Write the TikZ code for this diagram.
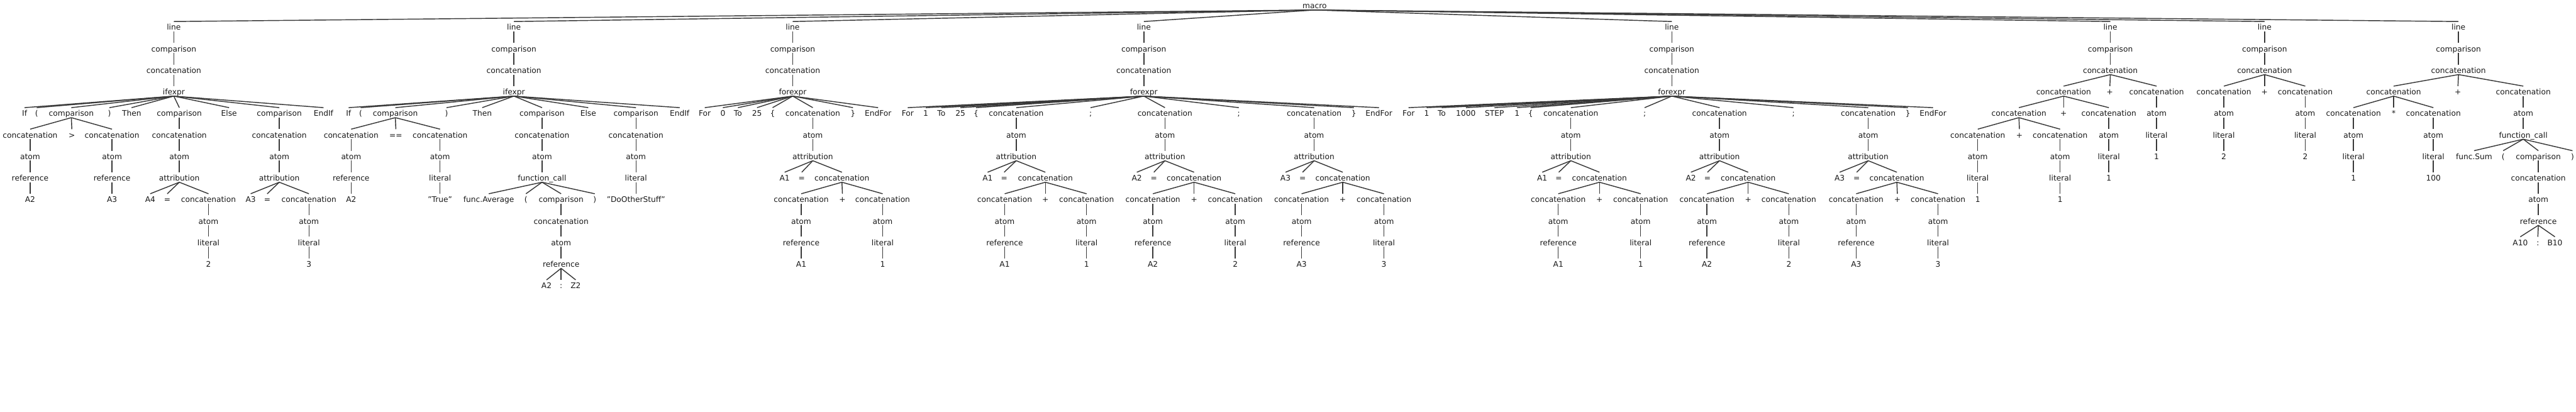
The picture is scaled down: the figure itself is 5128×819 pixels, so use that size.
\documentclass[tikz,border=0pt]{standalone}
\usepackage{fontspec}
\setmainfont{DejaVu Sans}
\begin{document}
\begin{tikzpicture}[x=1pt,y=-1pt,
  tn/.style={font=\fontsize{15.3}{18}\selectfont, text=black!90, inner sep=0pt, text height=17pt, text depth=2.5pt, anchor=base},
  ed/.style={draw=black!78, line width=1.8pt}]
\fill[white] (0,0) rectangle (5128,819);
\useasboundingbox (0,0) rectangle (5128,819);
\newcommand\TN[5]{\node[tn] (#1) at (#3,{17.2+42.85*#4}) {#5}; \draw[ed] (#2.south) -- (#1.north);}
\newcommand\CH[5]{%
  \xdef\chprev{#2}%
  \foreach \lab [count=\k from #4] in {#5}{%
    \TN{#1\k}{\chprev}{#3}{\k}{\lab}%
    \xdef\chprev{#1\k}%
  }%
}
\newcommand\ATT[9]{%
  \TN{#1A}{#2}{#3}{8}{A#4}%
  \TN{#1E}{#2}{#5}{8}{=}%
  \TN{#1C}{#2}{#6}{8}{concatenation}%
  \CH{#1l}{#1C}{#7}{9}{concatenation,atom,reference,A#4}%
  \TN{#1P}{#1C}{#8}{9}{+}%
  \CH{#1r}{#1C}{#9}{9}{concatenation,atom,literal,#4}%
}
% root
\node[tn] (m) at (2617,17.2) {macro};
% ---------- line 1
\CH{a}{m}{346}{1}{line,comparison,concatenation,ifexpr}
\TN{aIf}{a4}{49}{5}{If}
\TN{aLp}{a4}{73}{5}{(}
\CH{ac}{a4}{142}{5}{comparison}
\TN{aRp}{a4}{218}{5}{)}
\TN{aThen}{a4}{262}{5}{Then}
\CH{at}{a4}{357}{5}{comparison,concatenation,atom,attribution}
\TN{aElse}{a4}{456}{5}{Else}
\CH{ae}{a4}{556}{5}{comparison,concatenation,atom,attribution}
\TN{aEnd}{a4}{644}{5}{EndIf}
\CH{acl}{ac5}{60}{6}{concatenation,atom,reference,A2}
\TN{agt}{ac5}{143}{6}{>}
\CH{acr}{ac5}{223}{6}{concatenation,atom,reference,A3}
\TN{atA}{at8}{299}{9}{A4}
\TN{atEq}{at8}{333}{9}{=}
\CH{atc}{at8}{415}{9}{concatenation,atom,literal,2}
\TN{aeA}{ae8}{499}{9}{A3}
\TN{aeEq}{ae8}{532}{9}{=}
\CH{aec}{ae8}{615}{9}{concatenation,atom,literal,3}
% ---------- line 2
\CH{b}{m}{1023}{1}{line,comparison,concatenation,ifexpr}
\TN{bIf}{b4}{694}{5}{If}
\TN{bLp}{b4}{718}{5}{(}
\CH{bc}{b4}{787}{5}{comparison}
\TN{bRp}{b4}{889}{5}{)}
\TN{bThen}{b4}{960}{5}{Then}
\CH{bt}{b4}{1079}{5}{comparison,concatenation,atom,function\_call}
\TN{bElse}{b4}{1171}{5}{Else}
\CH{be}{b4}{1266}{5}{comparison,concatenation,atom,literal,"DoOtherStuff"}
\TN{bEnd}{b4}{1353}{5}{EndIf}
\CH{bcl}{bc5}{699}{6}{concatenation,atom,reference,A2}
\TN{beq}{bc5}{788}{6}{==}
\CH{bcr}{bc5}{876}{6}{concatenation,atom,literal,"True"}
\TN{bfn}{bt8}{973}{9}{func.Average}
\TN{bfL}{bt8}{1047}{9}{(}
\CH{bfc}{bt8}{1117}{9}{comparison,concatenation,atom,reference}
\TN{bfR}{bt8}{1184}{9}{)}
\TN{bA}{bfc12}{1088}{13}{A2}
\TN{bCo}{bfc12}{1117}{13}{:}
\TN{bZ}{bfc12}{1146}{13}{Z2}
% ---------- line 3
\CH{c}{m}{1578}{1}{line,comparison,concatenation,forexpr}
\TN{cFor}{c4}{1403}{5}{For}
\TN{cZero}{c4}{1439}{5}{0}
\TN{cTo}{c4}{1469}{5}{To}
\TN{cTf}{c4}{1507}{5}{25}
\TN{cLb}{c4}{1538}{5}{\{}
\CH{cc}{c4}{1618}{5}{concatenation,atom,attribution}
\TN{cRb}{c4}{1698}{5}{\}}
\TN{cEnd}{c4}{1748}{5}{EndFor}
\ATT{ccx}{cc7}{1562}{1}{1596}{1676}{1595}{1677}{1757}
% ---------- line 4
\CH{d}{m}{2277}{1}{line,comparison,concatenation,forexpr}
\TN{dFor}{d4}{1807}{5}{For}
\TN{dOne}{d4}{1843}{5}{1}
\TN{dTo}{d4}{1874}{5}{To}
\TN{dTf}{d4}{1912}{5}{25}
\TN{dLb}{d4}{1943}{5}{\{}
\CH{dp}{d4}{2023}{5}{concatenation,atom,attribution}
\TN{dSa}{d4}{2171}{5}{;}
\CH{dq}{d4}{2319}{5}{concatenation,atom,attribution}
\TN{dSb}{d4}{2466}{5}{;}
\CH{dr}{d4}{2616}{5}{concatenation,atom,attribution}
\TN{dRb}{d4}{2695}{5}{\}}
\TN{dEnd}{d4}{2745}{5}{EndFor}
\ATT{dpx}{dp7}{1966}{1}{1999}{2081}{2000}{2081}{2163}
\ATT{dqx}{dq7}{2263}{2}{2297}{2377}{2295}{2377}{2459}
\ATT{drx}{dr7}{2559}{3}{2593}{2673}{2591}{2673}{2755}
% ---------- line 5
\CH{e}{m}{3328}{1}{line,comparison,concatenation,forexpr}
\TN{eFor}{e4}{2804}{5}{For}
\TN{eOne}{e4}{2840}{5}{1}
\TN{eTo}{e4}{2870}{5}{To}
\TN{eTh}{e4}{2918}{5}{1000}
\TN{eStep}{e4}{2975}{5}{STEP}
\TN{eOneb}{e4}{3020}{5}{1}
\TN{eLb}{e4}{3047}{5}{\{}
\CH{ep}{e4}{3127}{5}{concatenation,atom,attribution}
\TN{eSa}{e4}{3274}{5}{;}
\CH{eq}{e4}{3423}{5}{concatenation,atom,attribution}
\TN{eSb}{e4}{3570}{5}{;}
\CH{er}{e4}{3719}{5}{concatenation,atom,attribution}
\TN{eRb}{e4}{3798}{5}{\}}
\TN{eEnd}{e4}{3848}{5}{EndFor}
\ATT{epx}{ep7}{3070}{1}{3103}{3184}{3102}{3184}{3266}
\ATT{eqx}{eq7}{3366}{2}{3399}{3480}{3398}{3480}{3561}
\ATT{erx}{er7}{3662}{3}{3696}{3776}{3695}{3777}{3858}
% ---------- line 6
\CH{f}{m}{4201}{1}{line,comparison,concatenation}
\TN{fFa}{f3}{4108}{4}{concatenation}
\TN{fFb}{f3}{4200}{4}{+}
\TN{fFc}{f3}{4293}{4}{concatenation}
\TN{fGa}{fFa}{4019}{5}{concatenation}
\TN{fGb}{fFa}{4108}{5}{+}
\CH{fk}{fFa}{4198}{5}{concatenation,atom,literal,1}
\CH{fz}{fFc}{4293}{5}{atom,literal,1}
\CH{fi}{fGa}{3937}{6}{concatenation,atom,literal,1}
\TN{fHb}{fGa}{4020}{6}{+}
\CH{fj}{fGa}{4101}{6}{concatenation,atom,literal,1}
% ---------- line 7
\CH{g}{m}{4508}{1}{line,comparison,concatenation}
\CH{gl}{g3}{4427}{4}{concatenation,atom,literal,2}
\TN{gP}{g3}{4508}{4}{+}
\CH{gr}{g3}{4589}{4}{concatenation,atom,literal,2}
% ---------- line 8
\CH{h}{m}{4894}{1}{line,comparison,concatenation}
\TN{hFa}{h3}{4765}{4}{concatenation}
\TN{hP}{h3}{4893}{4}{+}
\CH{hr}{h3}{5023}{4}{concatenation,atom,function\_call}
\CH{hl}{hFa}{4685}{5}{concatenation,atom,literal,1}
\TN{hS}{hFa}{4765}{5}{*}
\CH{hm}{hFa}{4844}{5}{concatenation,atom,literal,100}
\TN{hfn}{hr6}{4925}{7}{func.Sum}
\TN{hfL}{hr6}{4983}{7}{(}
\CH{hfc}{hr6}{5053}{7}{comparison,concatenation,atom,reference}
\TN{hfR}{hr6}{5121}{7}{)}
\TN{hA}{hfc10}{5017}{11}{A10}
\TN{hC}{hfc10}{5052}{11}{:}
\TN{hB}{hfc10}{5086}{11}{B10}
\end{tikzpicture}
\end{document}
